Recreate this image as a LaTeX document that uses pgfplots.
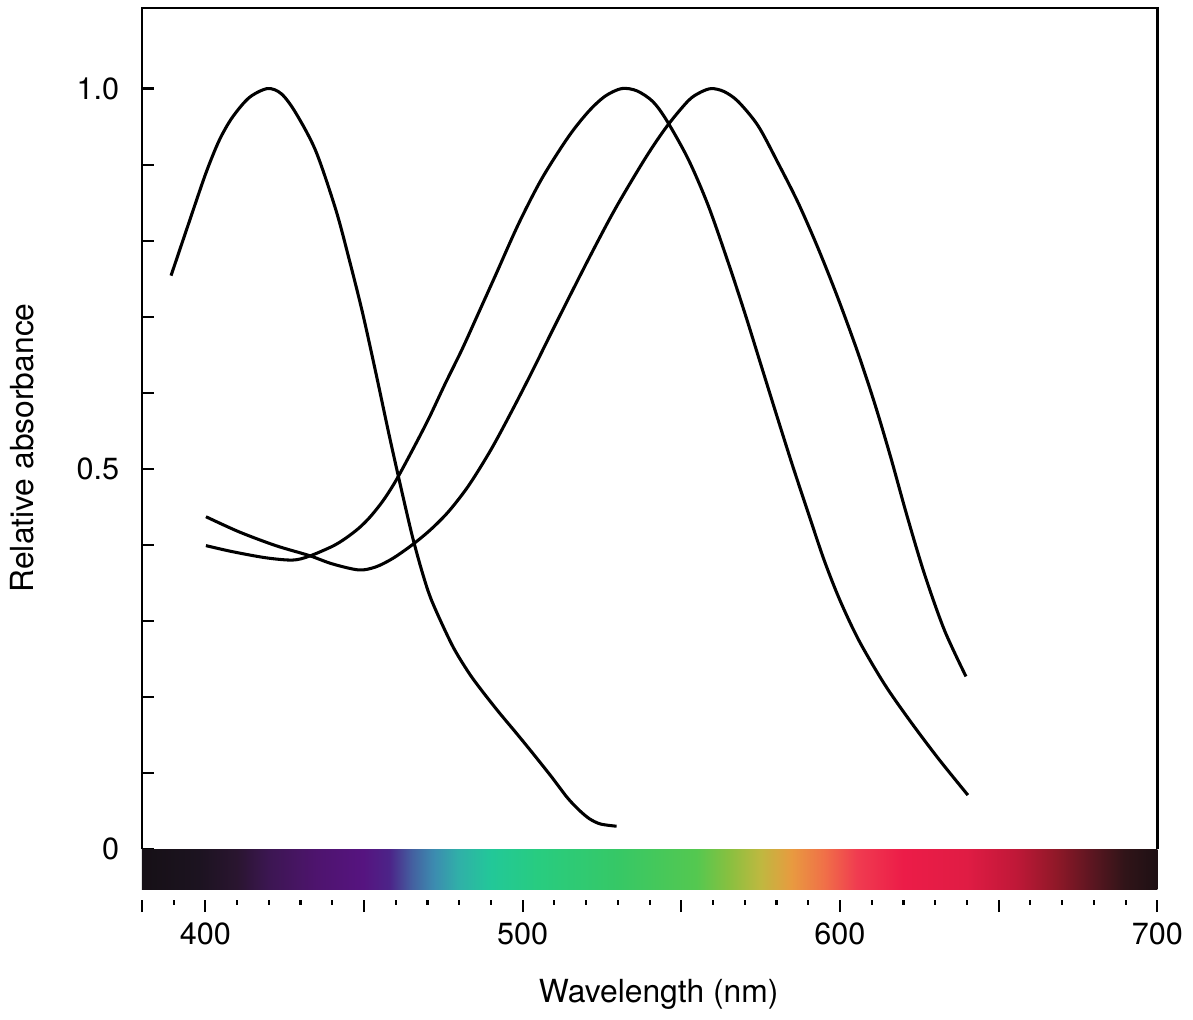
\documentclass[border=0pt]{standalone}
\usepackage{fontspec}
\setmainfont{TeX Gyre Heros}
\usepackage{pgfplots}
\pgfplotsset{compat=1.18}

% spectrum bar colours (380 nm -> 25bp, 700 nm -> 75bp)
\definecolor{s380}{HTML}{161016}
\definecolor{s398}{HTML}{1C1320}
\definecolor{s410}{HTML}{2A1530}
\definecolor{s420}{HTML}{3C1652}
\definecolor{s435}{HTML}{4E146E}
\definecolor{s450}{HTML}{561480}
\definecolor{s458}{HTML}{4C2488}
\definecolor{s465}{HTML}{4460A0}
\definecolor{s472}{HTML}{3C8CB0}
\definecolor{s480}{HTML}{30B0A8}
\definecolor{s490}{HTML}{22C898}
\definecolor{s505}{HTML}{28CC80}
\definecolor{s530}{HTML}{36C866}
\definecolor{s555}{HTML}{54C850}
\definecolor{s565}{HTML}{88C040}
\definecolor{s575}{HTML}{C0B840}
\definecolor{s585}{HTML}{E89A40}
\definecolor{s595}{HTML}{F07048}
\definecolor{s605}{HTML}{F03C50}
\definecolor{s620}{HTML}{EC1C48}
\definecolor{s640}{HTML}{E01C44}
\definecolor{s655}{HTML}{C01838}
\definecolor{s668}{HTML}{901828}
\definecolor{s680}{HTML}{581620}
\definecolor{s690}{HTML}{301418}
\definecolor{s700}{HTML}{1E1014}
\pgfdeclarehorizontalshading{spectrum}{100bp}{
 color(0bp)=(s380); color(25bp)=(s380); color(27.8bp)=(s398); color(29.7bp)=(s410);
 color(31.25bp)=(s420); color(33.6bp)=(s435); color(35.9bp)=(s450); color(37.2bp)=(s458);
 color(38.3bp)=(s465); color(39.4bp)=(s472); color(40.6bp)=(s480); color(42.2bp)=(s490);
 color(44.5bp)=(s505); color(48.4bp)=(s530); color(52.3bp)=(s555); color(53.9bp)=(s565);
 color(55.5bp)=(s575); color(57.0bp)=(s585); color(58.6bp)=(s595); color(60.2bp)=(s605);
 color(62.5bp)=(s620); color(65.6bp)=(s640); color(68.0bp)=(s655); color(70.0bp)=(s668);
 color(71.9bp)=(s680); color(73.4bp)=(s690); color(75bp)=(s700); color(100bp)=(s700)}

\begin{document}
\begin{tikzpicture}
\begin{axis}[scale only axis,width=332pt,height=275pt,
 xmin=380,xmax=700,ymin=0,ymax=1.106,
 hide x axis,clip=false,
 axis line style={line width=0.8pt},
 ytick={0,0.5,1},yticklabels={0,0.5,1.0},
 minor ytick={0.1,0.2,0.3,0.4,0.6,0.7,0.8,0.9},
 ytick pos=left,tick align=inside,
 major tick length=4pt,minor tick length=4pt,
 tick style={black,line width=0.7pt},
 yticklabel style={xshift=-3.9pt,/pgf/number format/assume math mode=true},
 ylabel={Relative absorbance},
 label style={font=\fontsize{10.4pt}{12pt}\selectfont},
 ylabel style={at={(axis description cs:-0.118,0.477)},anchor=center}]
\shade[shading=spectrum] (axis cs:380,0) rectangle (axis cs:700,-0.0538);
\draw[line width=0.8pt,line cap=rect] (rel axis cs:0,1) -- (rel axis cs:1,1);
\path (rel axis cs:0,1) -- ++(0pt,2.6pt);
% S cone
\addplot[black,line width=1pt,smooth] coordinates {
 (389.2,0.754) (394.7,0.822) (400.2,0.889) (404.4,0.932) (408.5,0.962)
 (413.8,0.988) (419.6,1.000) (424.0,0.993) (428.5,0.968) (434.8,0.918)
 (441.1,0.841) (445.3,0.776) (449.5,0.706) (453.7,0.627) (457.9,0.545)
 (461.5,0.478) (465.2,0.412) (468.5,0.362) (471.5,0.325) (477.8,0.268)
 (483.0,0.232) (487.2,0.208) (492.5,0.180) (497.7,0.154) (502.8,0.128)
 (509.1,0.095) (514.0,0.068) (517.6,0.052) (521.0,0.040) (524.5,0.033)
 (529.6,0.030)};
% M cone
\addplot[black,line width=1pt,smooth] coordinates {
 (400.2,0.399) (408.6,0.391) (419.1,0.383) (427.5,0.380) (432.7,0.385)
 (440.0,0.398) (444.0,0.408) (448.4,0.422) (452.0,0.437) (456.0,0.458)
 (460.0,0.484) (465.2,0.524) (470.4,0.566)
 (475.6,0.612) (480.9,0.657) (486.0,0.704) (491.4,0.754)
 (498.7,0.822) (506.1,0.882) (514.5,0.937) (520.8,0.970) (526.0,0.990)
 (531.2,1.000) (536.0,0.997) (541.0,0.983) (545.4,0.958) (552.2,0.907)
 (558.5,0.846) (564.8,0.771) (570.0,0.705) (575.0,0.638) (580.0,0.571)
 (585.0,0.505) (590.0,0.442) (595.0,0.380) (600.0,0.327) (606.0,0.274)
 (614.0,0.217) (622.0,0.169) (631.0,0.119) (640.3,0.071)};
% L cone
\addplot[black,line width=1pt,smooth] coordinates {
 (400.2,0.437) (410.7,0.417) (422.2,0.399) (432.7,0.386) (440.0,0.375)
 (448.4,0.367) (453.7,0.371) (459.0,0.382) (465.2,0.400) (471.0,0.420)
 (476.7,0.444) (483.0,0.478) (490.0,0.525) (496.6,0.576) (503.0,0.628)
 (510.0,0.687) (520.8,0.776) (529.2,0.842) (538.6,0.908) (545.4,0.950)
 (552.2,0.984) (556.0,0.995) (559.5,1.000) (563.5,0.996) (567.9,0.983)
 (574.2,0.951) (580.5,0.902) (586.8,0.850) (593.1,0.790) (599.4,0.724)
 (605.7,0.652) (611.0,0.585) (616.0,0.515) (621.0,0.440) (626.6,0.362)
 (632.9,0.288) (639.7,0.227)};
\end{axis}
\begin{axis}[at={(0pt,-16.6pt)},anchor=south west,
 scale only axis,width=332pt,height=1pt,
 xmin=380,xmax=700,ymin=0,ymax=1,
 axis x line*=bottom,hide y axis,x axis line style={draw=none},
 xtick={400,500,600,700},xticklabels={400,500,600,700},
 extra x ticks={380,450,550,650},extra x tick labels={},
 minor xtick={390,410,420,430,440,460,470,480,490,510,520,530,540,560,570,580,590,610,620,630,640,660,670,680,690},
 xtick align=outside,major tick length=4pt,minor tick length=1.6pt,
 tick style={black,line width=0.7pt},
 xticklabel style={/pgf/number format/assume math mode=true},
 xlabel={Wavelength (nm)},
 label style={font=\fontsize{10.4pt}{12pt}\selectfont},
 xlabel style={at={(axis description cs:0.509,0)},anchor=center,yshift=-31pt}]
\addplot[draw=none] coordinates {(380,0.5) (700,0.5)};
\end{axis}
\end{tikzpicture}
\end{document}
